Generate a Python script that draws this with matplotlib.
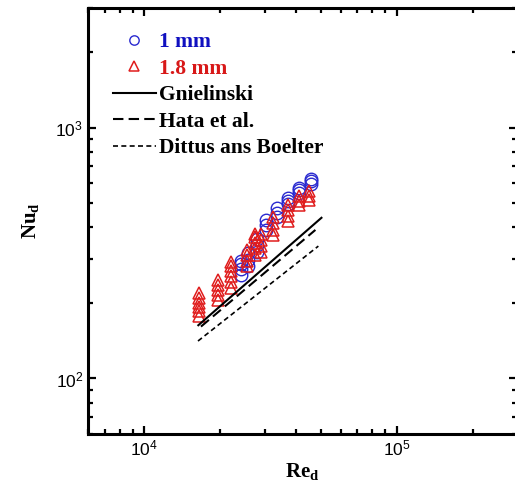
import numpy as np
import matplotlib
matplotlib.use("Agg")
import matplotlib.pyplot as plt

plt.rcParams["font.family"] = ["Liberation Sans", "DejaVu Sans"]
plt.rcParams["mathtext.fontset"] = "custom"
plt.rcParams["mathtext.bf"] = "Liberation Serif:bold"
plt.rcParams["mathtext.rm"] = "Liberation Sans"

# 1 mm data (Re_d, Nu_d)
re_1mm = [24300, 24300, 24300, 24300,
          25800, 25800, 25800,
          28000, 28000, 28000,
          30500, 30500, 30500,
          33500, 33500, 33500,
          37000, 37000, 37000,
          41000, 41000, 41000,
          46000, 46000, 46000]
nu_1mm = [258, 272, 285, 294,
          280, 298, 315,
          320, 340, 360,
          392, 410, 428,
          440, 458, 478,
          495, 510, 525,
          548, 562, 575,
          595, 610, 625]

# 1.8 mm data
re_18mm = [16500, 16500, 16500, 16500, 16500, 16500,
           19700, 19700, 19700, 19700, 19700,
           22100, 22100, 22100, 22100, 22100, 22100,
           25500, 25500, 25500, 25500,
           27500, 27500, 27500, 27500, 27500,
           29100, 29100, 29100, 29100,
           32500, 32500, 32500, 32500,
           37000, 37000, 37000, 37000,
           41000, 41000, 41000,
           45000, 45000, 45000]
nu_18mm = [177, 185, 192, 200, 209, 219,
           205, 215, 225, 236, 248,
           230, 242, 255, 268, 282, 292,
           282, 295, 310, 325,
           312, 330, 348, 365, 378,
           318, 338, 358, 378,
           372, 392, 415, 440,
           425, 445, 468, 490,
           490, 510, 532,
           515, 535, 558]

# correlations (end points)
re_gn = [16400, 50400]
nu_gn = [163, 437]
re_hata = [16800, 47700]
nu_hata = [161, 391]
re_db = [16350, 49000]
nu_db = [141, 337]

fig = plt.figure(figsize=(5.15, 4.95), dpi=100)
ax = fig.add_axes([0.171, 0.123, 0.833, 0.861])

ax.plot(re_1mm, nu_1mm, ls="none", marker="o", ms=9, mfc="none",
        mec="#2a2ad0", mew=1.0, label="1 mm")
ax.plot(re_18mm, nu_18mm, ls="none", marker="^", ms=9, mfc="none",
        mec="#e01c1c", mew=1.1, label="1.8 mm")
ax.plot(re_gn, nu_gn, color="black", lw=1.5, label="Gnielinski")
ax.plot(re_hata, nu_hata, color="black", lw=1.5, dashes=(5, 2.5),
        label="Hata et al.")
ax.plot(re_db, nu_db, color="black", lw=1.2, dashes=(3, 2),
        label="Dittus ans Boelter")

ax.set_xscale("log")
ax.set_yscale("log")
ax.set_xlim(6000, 3.0e5)
ax.set_ylim(60, 3000)

ax.set_xlabel(r"$\mathbf{Re}_\mathbf{d}$", fontsize=15, labelpad=2)
ax.set_ylabel(r"$\mathbf{Nu}_\mathbf{d}$", fontsize=15, labelpad=10)

for s in ax.spines.values():
    s.set_linewidth(2.2)
ax.tick_params(which="both", direction="in", top=True, right=True,
               labelsize=12.5, width=1.6)
ax.tick_params(which="major", length=6)
ax.tick_params(which="minor", length=3.5)

leg = ax.legend(loc="upper left", bbox_to_anchor=(0.058, 0.943),
                frameon=False, borderpad=0, borderaxespad=0,
                handlelength=2.0, handletextpad=0.15, labelspacing=0.3,
                markerscale=0.75,
                prop={"family": "Liberation Serif", "weight": "bold",
                      "size": 15.5})
text_colors = ["#1010c0", "#d81818", "black", "black", "black"]
for t, c in zip(leg.get_texts(), text_colors):
    t.set_color(c)

fig.savefig("out.png", dpi=100)
